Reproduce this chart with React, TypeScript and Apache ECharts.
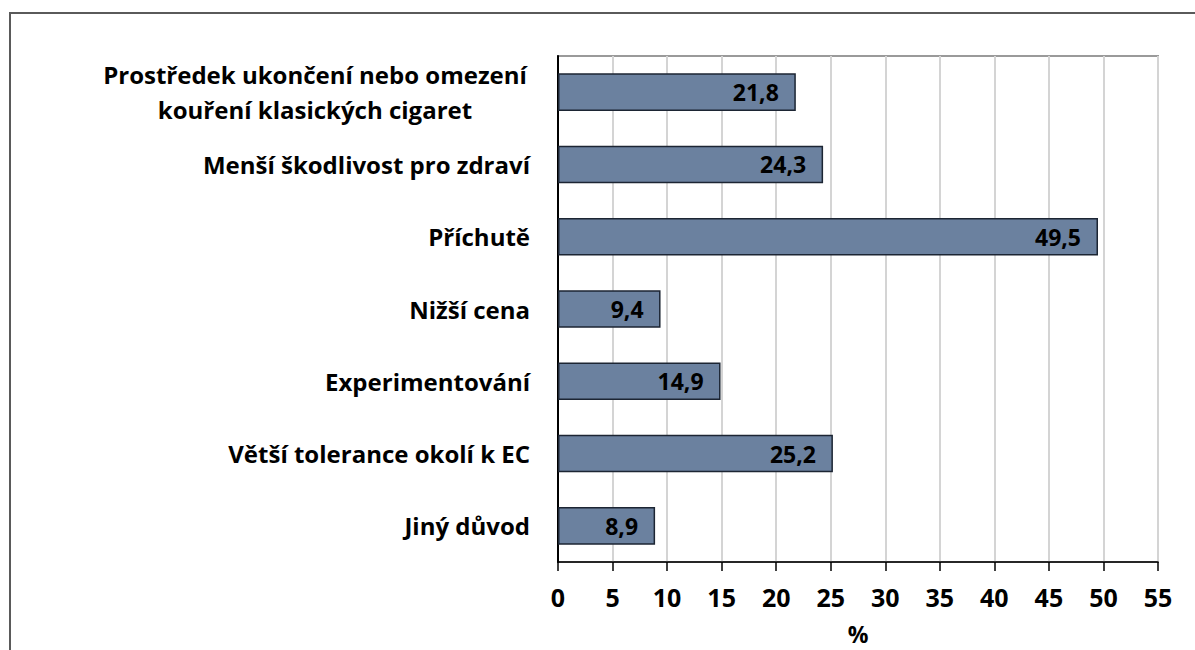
import React, { useEffect, useRef } from "react";
import * as echarts from "echarts";

const categories = [
  "Prostředek ukončení nebo omezení\nkouření klasických cigaret",
  "Menší škodlivost pro zdraví",
  "Příchutě",
  "Nižší cena",
  "Experimentování",
  "Větší tolerance okolí k EC",
  "Jiný důvod",
];
const values = [21.8, 24.3, 49.5, 9.4, 14.9, 25.2, 8.9];
const axisName = "%";

const FONT = "'Open Sans', sans-serif";

export default function App() {
  const ref = useRef<HTMLDivElement>(null);
  useEffect(() => {
    if (!ref.current) return;
    const chart = echarts.init(ref.current, null, { renderer: "svg" });
    chart.setOption({
      animation: false,
      backgroundColor: "#ffffff",
      graphic: [
        {
          type: "rect",
          shape: { x: 10, y: 13, width: 1400, height: 900 },
          style: { fill: "none", stroke: "#5a5a5a", lineWidth: 2 },
          silent: true,
        },
      ],
      grid: {
        left: 558,
        top: 56,
        right: 37,
        bottom: 88,
        show: true,
        borderColor: "#9a9a9a",
        borderWidth: 2,
        containLabel: false,
        outerBoundsMode: "none",
      },
      xAxis: {
        type: "value",
        min: 0,
        max: 55,
        interval: 5,
        name: axisName,
        nameLocation: "middle",
        nameGap: 60,
        nameTextStyle: { fontFamily: FONT, fontWeight: "bold", fontSize: 23, color: "#000" },
        axisLine: { show: true, lineStyle: { color: "#000", width: 1.5 } },
        axisTick: { show: true, length: 9, lineStyle: { color: "#000", width: 1.5 } },
        axisLabel: { fontFamily: FONT, fontWeight: "bold", fontSize: 25, color: "#000", margin: 22 },
        splitLine: { show: true, lineStyle: { color: "#d4d4d4", width: 2 } },
      },
      yAxis: {
        type: "category",
        data: categories,
        inverse: true,
        axisLine: { show: true, lineStyle: { color: "#000", width: 2 } },
        axisTick: { show: false },
        axisLabel: {
          fontFamily: FONT,
          fontWeight: "bold",
          fontSize: 24,
          color: "#000",
          margin: 28,
          lineHeight: 35,
          formatter: (v: string) => {
            if (v.indexOf("\n") >= 0) {
              return v
                .split("\n")
                .map((l) => `{c|${l}}`)
                .join("\n");
            }
            return v;
          },
          rich: {
            c: {
              width: 430,
              align: "center",
              fontFamily: FONT,
              fontWeight: "bold",
              fontSize: 24,
              color: "#000",
              lineHeight: 35,
            },
          },
        },
      },
      series: [
        {
          type: "bar",
          data: values,
          barCategoryGap: "48%",
          itemStyle: { color: "#6b819f", borderColor: "#1c2533", borderWidth: 1.5 },
          label: {
            show: true,
            position: "insideRight",
            distance: 17,
            formatter: (p: any) => String(p.value).replace(".", ","),
            fontFamily: FONT,
            fontWeight: "bold",
            fontSize: 23,
            color: "#000",
          },
        },
      ],
    });
    return () => chart.dispose();
  }, []);
  return (
    <div
      ref={ref}
      style={{ position: "fixed", left: 0, top: 0, width: 1195, height: 650, background: "#fff" }}
    />
  );
}
